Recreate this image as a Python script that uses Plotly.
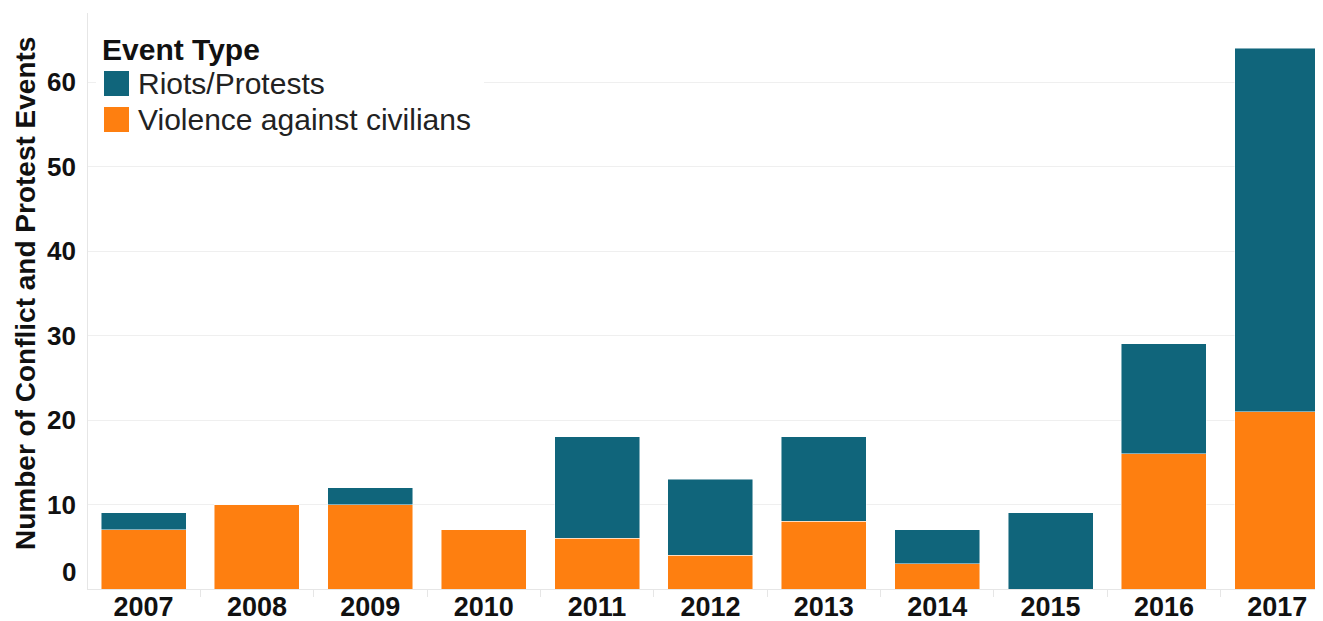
import plotly.graph_objects as go

years = ["2007", "2008", "2009", "2010", "2011", "2012", "2013", "2014", "2015", "2016", "2017"]
violence = [7, 10, 10, 7, 6, 4, 8, 3, 0, 16, 21]
riots = [2, 0, 2, 0, 12, 9, 10, 4, 9, 13, 43]
y_ticks = [0, 10, 20, 30, 40, 50, 60]
series_names = ["Riots/Protests", "Violence against civilians"]
teal = "#10657b"
orange = "#fe7f10"

W, H = 1323, 621
OFF = 8  # page body margin offset
L, R, T, B = 80, 10, 5, 40
pw, ph = W - L - R, H - T - B

def px(x):
    return (x - OFF - L) / pw

def py(y):
    return (H - B - (y - OFF)) / ph

FONT = "Arial, Liberation Sans, sans-serif"

fig = go.Figure()
fig.add_bar(x=years, y=violence, name=series_names[1], marker=dict(color=orange, line=dict(color="rgba(255,255,255,0.6)", width=0.8)))
fig.add_bar(x=years, y=riots, name=series_names[0], marker=dict(color=teal, line=dict(color="rgba(255,255,255,0.6)", width=0.8)))

ytop = 68.17
fig.update_layout(
    width=W, height=H,
    margin=dict(l=L, r=R, t=T, b=B),
    barmode="stack", bargap=0.25,
    showlegend=False,
    plot_bgcolor="white", paper_bgcolor="white",
    font=dict(family=FONT, color="#111111"),
    xaxis=dict(
        type="category", range=[-0.49, 10.385], automargin=False,
        showgrid=False, showline=True, linecolor="#e6e6e6", linewidth=1,
        ticks="outside", tickson="boundaries", ticklen=7, tickcolor="#e6e6e6",
        tickfont=dict(size=27, family=FONT, color="#111111", weight="bold"),
        ticklabelstandoff=-6,
        fixedrange=True,
    ),
    yaxis=dict(
        range=[0, ytop], tickvals=y_ticks, showticklabels=False, automargin=False,
        showgrid=True, gridcolor="#efefef", gridwidth=1,
        showline=True, linecolor="#e6e6e6", zeroline=False,
    ),
)

# y tick labels
for v in y_ticks:
    fig.add_annotation(
        x=0, xref="paper", y=v, yref="y", text=f"<b>{v}</b>", showarrow=False,
        xanchor="right", yanchor="middle", xshift=-10, yshift=(17 if v == 0 else 0),
        font=dict(size=26, family=FONT, color="#111111"),
    )

# y axis title
fig.add_annotation(
    x=px(25), xref="paper", y=py(294), yref="paper",
    text="<b>Number of Conflict and Protest Events</b>", textangle=-90, showarrow=False,
    xanchor="center", yanchor="middle", font=dict(size=28, family=FONT, color="#111111"),
)

# legend (drawn manually)
fig.add_shape(type="rect", xref="paper", yref="paper", x0=px(96), x1=px(484), y0=py(140), y1=py(30),
              fillcolor="white", line=dict(width=0), layer="above")
fig.add_annotation(x=px(100), xref="paper", y=py(49), yref="paper", text="<b>Event Type</b>",
                   showarrow=False, xanchor="left", yanchor="middle",
                   font=dict(size=30, family=FONT, color="#111111"))
for i, (name, col) in enumerate(zip(series_names, [teal, orange])):
    yc = 83.5 + i * 36
    fig.add_shape(type="rect", xref="paper", yref="paper", x0=px(104), x1=px(129),
                  y0=py(yc + 12.5), y1=py(yc - 12.5), fillcolor=col, line=dict(width=0), layer="above")
    fig.add_annotation(x=px(136), xref="paper", y=py(yc), yref="paper", text=name,
                       showarrow=False, xanchor="left", yanchor="middle",
                       font=dict(size=30, family=FONT, color="#222222"))

fig.write_html("out.html")
